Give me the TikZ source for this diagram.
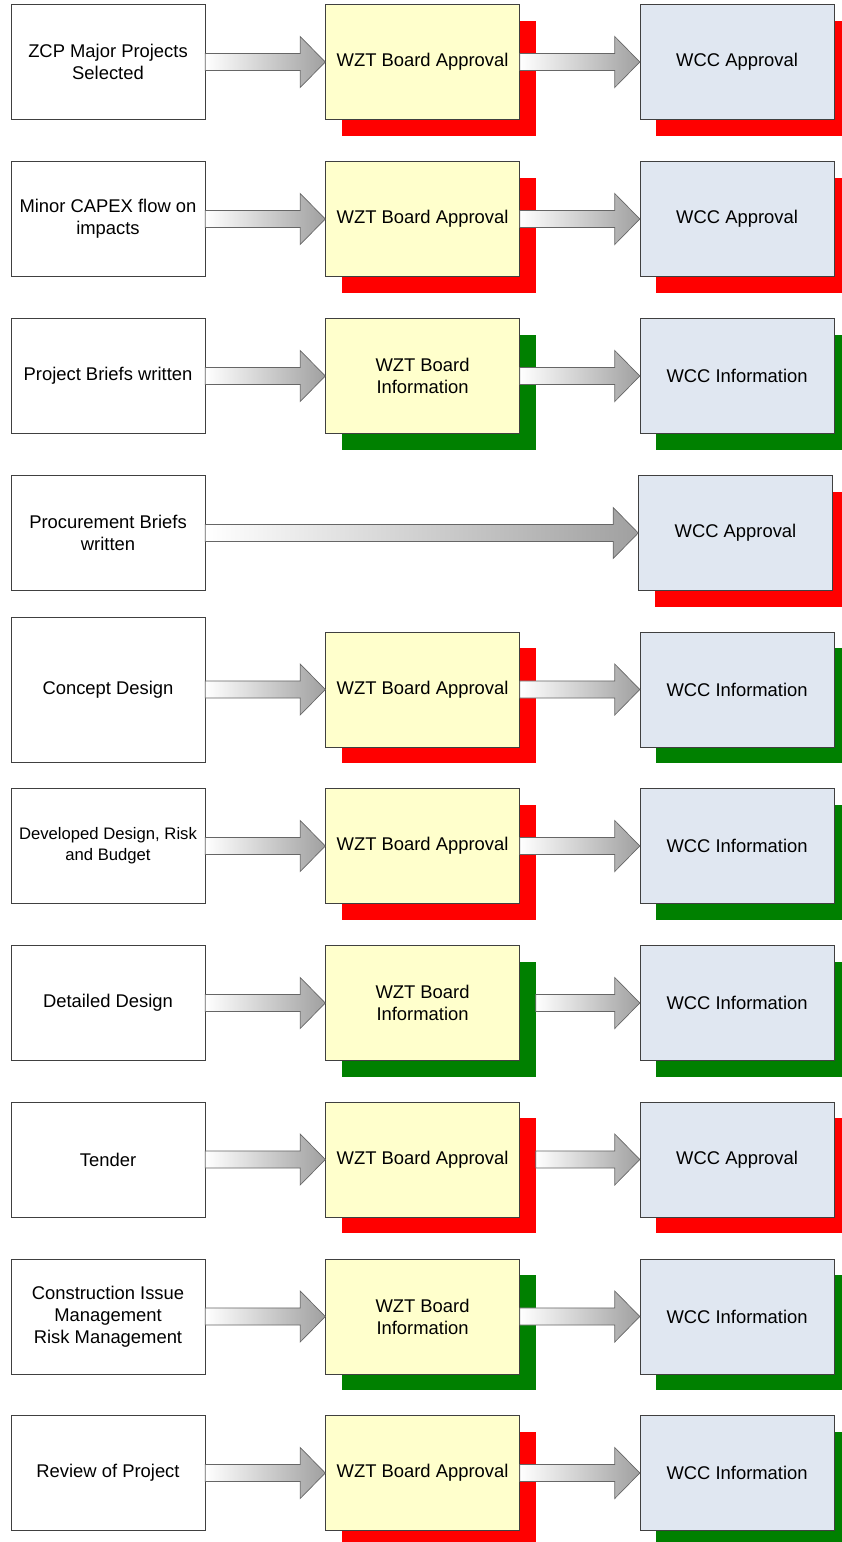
\documentclass[tikz,border=0pt]{standalone}
\usepackage{fontspec}
\setmainfont{Liberation Sans}
\usepackage{tikz}
\usetikzlibrary{positioning,calc,shadows}

\definecolor{wztfill}{RGB}{255,255,204}
\definecolor{wccfill}{RGB}{224,231,241}
\definecolor{boxline}{RGB}{64,64,64}
\definecolor{arrowgray}{RGB}{160,160,160}
\definecolor{infogreen}{RGB}{0,128,0}

% fat shaded arrow from one node anchor to another
\newcommand{\fatarrow}[2]{%
  \shadedraw[bigarrow] let \p1=#1, \p2=#2 in
    (\x1,\y1+6.4pt) -- (\x2-18.75pt,\y1+6.4pt) -- (\x2-18.75pt,\y1+19.1pt)
    -- (\x2,\y1) -- (\x2-18.75pt,\y1-19.1pt) -- (\x2-18.75pt,\y1-6.4pt)
    -- (\x1,\y1-6.4pt) -- cycle;}

\begin{document}
\begin{tikzpicture}[
    x=0.75pt, y=-0.75pt,
    node distance=90pt,
    every node/.style={font=\fontsize{13.8}{16.5}\selectfont, align=center},
    startbox/.style={draw=boxline, fill=white, minimum width=145.5pt, minimum height=86.25pt},
    wztbox/.style={draw=boxline, fill=wztfill, minimum width=145.5pt, minimum height=86.25pt},
    wccbox/.style={draw=boxline, fill=wccfill, minimum width=145.5pt, minimum height=86.25pt},
    redback/.style={general shadow={fill=red, draw=none, shadow xshift=12pt, shadow yshift=-12pt}},
    greenback/.style={general shadow={fill=infogreen, draw=none, shadow xshift=12pt, shadow yshift=-12pt}},
    bigarrow/.style={draw=boxline!80, line width=0.5pt, left color=white, right color=arrowgray}
]
    \useasboundingbox (0,0) rectangle (842,1542);

    % Row 1
    \node[startbox] (l1) at (108,62) {ZCP Major Projects\\Selected};
    \node[wztbox, redback, right=of l1] (m1) {WZT Board Approval};
    \node[wccbox, redback, right=of m1] (r1) {WCC Approval};
    \fatarrow{(l1.east)}{(m1.west)}
    \fatarrow{(m1.east)}{(r1.west)}

    % Row 2
    \node[startbox] (l2) at (108,219) {Minor CAPEX flow on\\impacts};
    \node[wztbox, redback, right=of l2] (m2) {WZT Board Approval};
    \node[wccbox, redback, right=of m2] (r2) {WCC Approval};
    \fatarrow{(l2.east)}{(m2.west)}
    \fatarrow{(m2.east)}{(r2.west)}

    % Row 3
    \node[startbox] (l3) at (108,376) {Project Briefs written};
    \node[wztbox, greenback, right=of l3] (m3) {WZT Board\\Information};
    \node[wccbox, greenback, right=of m3] (r3) {WCC Information};
    \fatarrow{(l3.east)}{(m3.west)}
    \fatarrow{(m3.east)}{(r3.west)}

    % Row 4
    \node[startbox] (l4) at (108,533) {Procurement Briefs\\written};
    \node[wccbox, redback] (r4) at (735.5,533) {WCC Approval};
    \fatarrow{(l4.east)}{(r4.west)}

    % Row 5
    \node[startbox, minimum height=108.75pt] (l5) at (108,689.5) {Concept Design};
    \node[wztbox, redback, right=of l5] (m5) {WZT Board Approval};
    \node[wccbox, greenback, right=of m5] (r5) {WCC Information};
    \fatarrow{(l5.east)}{(m5.west)}
    \fatarrow{(m5.east)}{(r5.west)}

    % Row 6
    \node[startbox, font=\fontsize{12.5}{15.8}\selectfont] (l6) at (108,846) {Developed Design, Risk\\and Budget};
    \node[wztbox, redback, right=of l6] (m6) {WZT Board Approval};
    \node[wccbox, greenback, right=of m6] (r6) {WCC Information};
    \fatarrow{(l6.east)}{(m6.west)}
    \fatarrow{(m6.east)}{(r6.west)}

    % Row 7
    \node[startbox] (l7) at (108,1003) {Detailed Design};
    \node[wztbox, greenback, right=of l7] (m7) {WZT Board\\Information};
    \node[wccbox, greenback, right=of m7] (r7) {WCC Information};
    \coordinate (s7) at ([xshift=12pt]m7.east);
    \fatarrow{(l7.east)}{(m7.west)}
    \fatarrow{(s7)}{(r7.west)}

    % Row 8
    \node[startbox] (l8) at (108,1159.5) {Tender};
    \node[wztbox, redback, right=of l8] (m8) {WZT Board Approval};
    \node[wccbox, redback, right=of m8] (r8) {WCC Approval};
    \coordinate (s8) at ([xshift=12pt]m8.east);
    \fatarrow{(l8.east)}{(m8.west)}
    \fatarrow{(s8)}{(r8.west)}

    % Row 9
    \node[startbox] (l9) at (108,1316.5) {Construction Issue\\Management\\Risk Management};
    \node[wztbox, greenback, right=of l9] (m9) {WZT Board\\Information};
    \node[wccbox, greenback, right=of m9] (r9) {WCC Information};
    \fatarrow{(l9.east)}{(m9.west)}
    \fatarrow{(m9.east)}{(r9.west)}

    % Row 10
    \node[startbox] (l10) at (108,1473) {Review of Project};
    \node[wztbox, redback, right=of l10] (m10) {WZT Board Approval};
    \node[wccbox, greenback, right=of m10] (r10) {WCC Information};
    \fatarrow{(l10.east)}{(m10.west)}
    \fatarrow{(m10.east)}{(r10.west)}
\end{tikzpicture}
\end{document}
